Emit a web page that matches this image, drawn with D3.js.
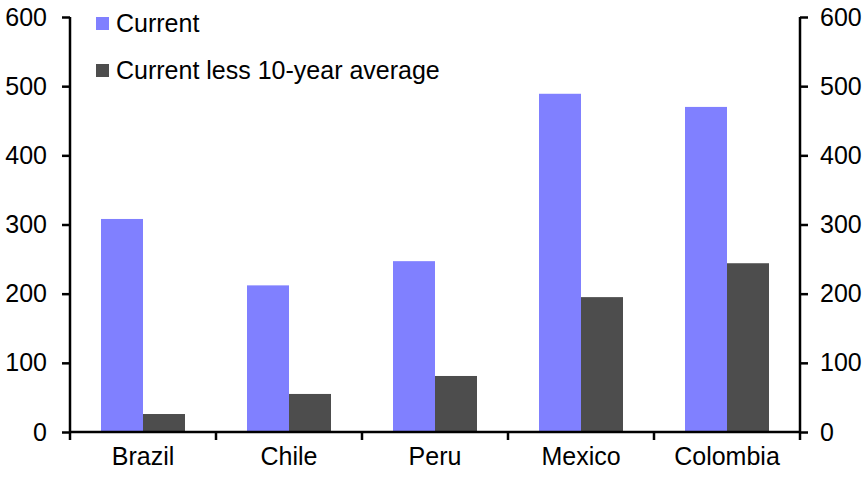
<!DOCTYPE html>
<html><head><meta charset="utf-8">
<script src="https://cdn.jsdelivr.net/npm/d3@7"></script>
<style>body{margin:0;background:#fff;} text{font-family:"Liberation Sans",Arial,sans-serif;fill:#000;}</style>
</head><body>
<svg id="c" width="867" height="482"></svg>
<script>
const categories = ["Brazil","Chile","Peru","Mexico","Colombia"];
const seriesNames = ["Current","Current less 10-year average"];
const current = [308, 212, 247, 489, 470];
const lessAvg = [26, 55, 81, 195, 244];
const yTicks = [0,100,200,300,400,500,600];
const colors = ["#8080FF","#4D4D4D"];

const svg = d3.select("#c");
const m = {l:70, r:800, t:17, b:432};
const x = d3.scaleBand().domain(categories).range([m.l, m.r]).paddingInner(0).paddingOuter(0);
const y = d3.scaleLinear().domain([0,600]).range([m.b, m.t]);
const bw = 42, off = (x.bandwidth() - 2*bw)/2;
const series = [current, lessAvg];

series.forEach((vals, si) => {
  svg.append("g").selectAll("rect").data(vals).join("rect")
    .attr("x", (d,i) => x(categories[i]) + off + si*bw)
    .attr("width", bw)
    .attr("y", d => y(d))
    .attr("height", d => y(0) - y(d))
    .attr("fill", colors[si]);
});

const fs = 25;
const yl = svg.append("g").attr("transform", `translate(${m.l},0)`)
  .call(d3.axisLeft(y).tickValues(yTicks).tickSize(8).tickPadding(15).tickFormat(d3.format("d")));
const yr = svg.append("g").attr("transform", `translate(${m.r},0)`)
  .call(d3.axisRight(y).tickValues(yTicks).tickSize(8).tickPadding(12).tickFormat(d3.format("d")));
const xa = svg.append("g").attr("transform", `translate(0,${m.b})`)
  .call(d3.axisBottom(x).tickSize(0).tickPadding(15));
svg.append("g").selectAll("line").data(d3.range(categories.length+1)).join("line")
  .attr("x1", i => m.l + i*x.step()).attr("x2", i => m.l + i*x.step())
  .attr("y1", m.b).attr("y2", m.b+8).attr("stroke","#000").attr("stroke-width",2.5);
[yl,yr,xa].forEach(g => {
  g.selectAll("path.domain").attr("stroke","#000").attr("stroke-width",2.5);
  g.selectAll(".tick line").attr("stroke","#000").attr("stroke-width",2.5);
  g.selectAll("text").style("font-size", fs+"px").style("font-family","'Liberation Sans',Arial,sans-serif").attr("fill","#000");
});
xa.select("path.domain").attr("d", `M${m.l},0H${m.r}`);
yl.select("path.domain").attr("d", `M0,${m.t}V${m.b}`);
yr.select("path.domain").attr("d", `M0,${m.t}V${m.b}`);

const leg = svg.append("g");
seriesNames.forEach((n,i) => {
  const ly = 23 + i*47;
  leg.append("rect").attr("x",96).attr("y",ly-6).attr("width",13).attr("height",13).attr("fill",colors[i]);
  leg.append("text").attr("x",116).attr("y",ly).attr("dy","0.35em").style("font-size",fs+"px").text(n);
});
</script>
</body></html>
